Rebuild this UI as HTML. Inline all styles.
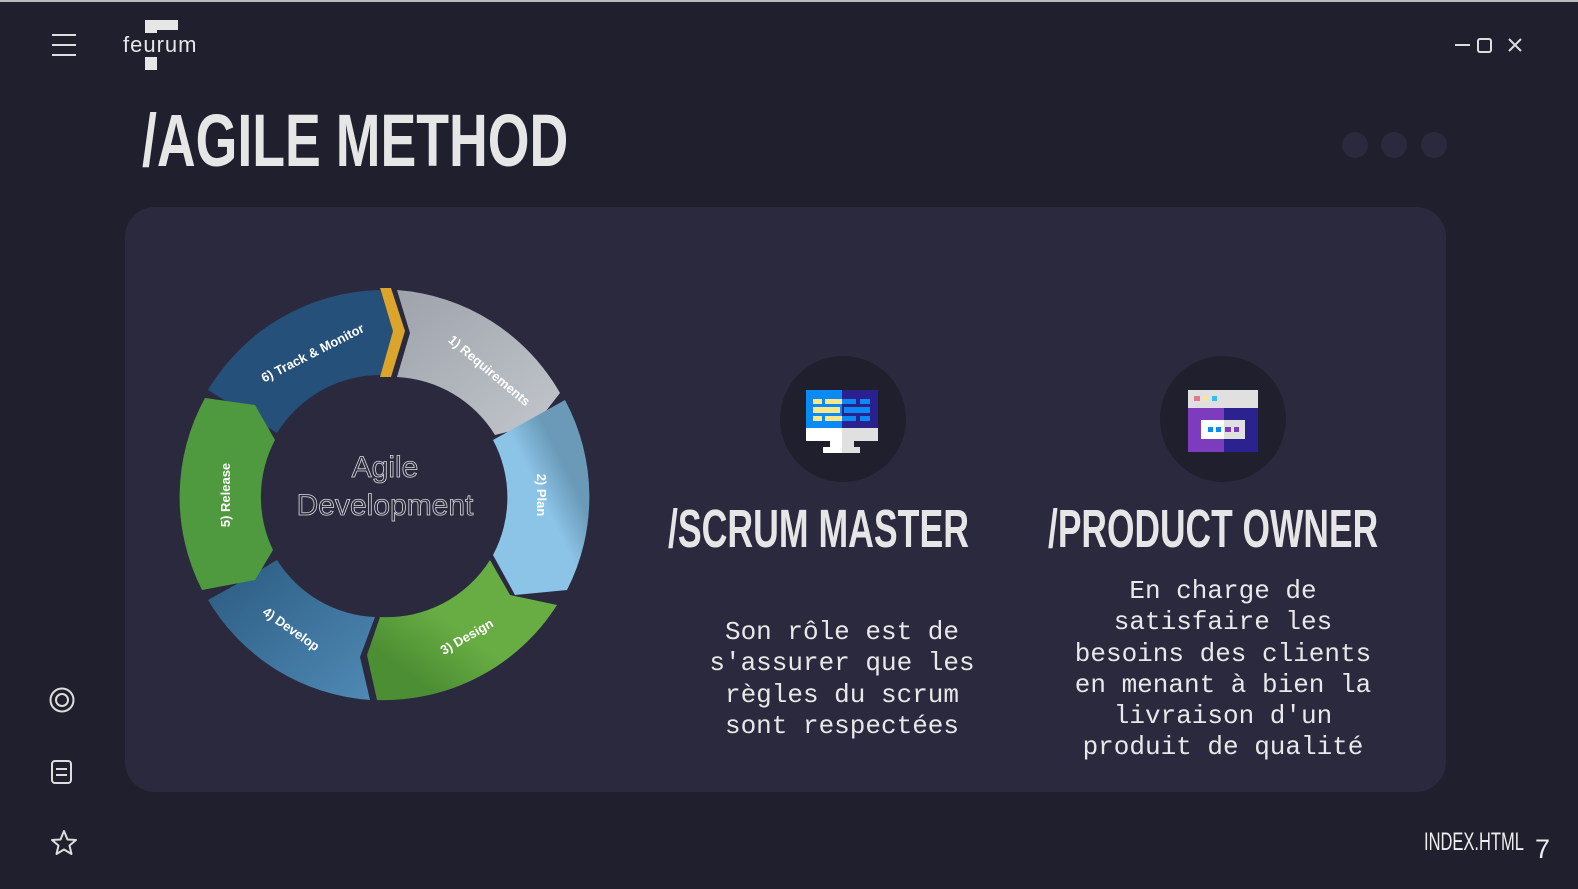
<!DOCTYPE html>
<html><head><meta charset="utf-8"><style>
html,body{margin:0;padding:0}
body{width:1578px;height:889px;background:#1f1f2d;position:relative;overflow:hidden;font-family:"Liberation Sans",sans-serif;border-top:2px solid #bbb;box-sizing:border-box}
.cond{font-family:"Liberation Sans Narrow","Liberation Sans",sans-serif;font-weight:bold;color:#e6e6e6;position:absolute;white-space:nowrap;transform-origin:left top}
.panel{position:absolute;left:125px;top:205px;width:1321px;height:585px;background:#2a293e;border-radius:30px}
.mono{position:absolute;font-family:"Liberation Mono",monospace;font-size:26px;line-height:31.3px;color:#e8e8e8;text-align:center;white-space:pre}
.circ{position:absolute;width:126px;height:126px;border-radius:50%;background:#1f1f2d}
.dot{position:absolute;top:130px;width:26px;height:26px;border-radius:50%;background:#2a293e}
</style></head><body>
<div style="position:absolute;left:52px;top:32px;width:24px;height:2px;background:#ddd"></div>
<div style="position:absolute;left:52px;top:42px;width:24px;height:2px;background:#ddd"></div>
<div style="position:absolute;left:52px;top:52px;width:24px;height:2px;background:#ddd"></div>
<div style="position:absolute;left:145px;top:18px;width:12px;height:50px;background:#e6e6e6"></div>
<div style="position:absolute;left:145px;top:18px;width:33px;height:10px;background:#e6e6e6"></div>
<div style="position:absolute;left:122px;top:31px;font-size:22px;letter-spacing:1px;color:#e6e6e6;background:#1f1f2d;padding:0 1px;line-height:24px">feurum</div>
<div style="position:absolute;left:1455px;top:42px;width:15px;height:2px;background:#ddd"></div>
<div style="position:absolute;left:1477px;top:36px;width:11px;height:11px;border:2px solid #ddd;border-radius:3px"></div>
<svg style="position:absolute;left:1507px;top:35px" width="16" height="16"><path d="M2 2L14 14M14 2L2 14" stroke="#ddd" stroke-width="2"/></svg>
<div class="cond" style="left:142px;top:96px;font-size:74px;transform:scaleX(0.725)">/AGILE METHOD</div>
<div class="dot" style="left:1342px"></div><div class="dot" style="left:1381px"></div><div class="dot" style="left:1421px"></div>
<div class="panel"></div>
<svg style="position:absolute;left:170px;top:280px" width="430" height="430" viewBox="-215 -213 430 430">
<defs>
<linearGradient id="g1" x1="0" y1="0" x2="1" y2="1"><stop offset="0" stop-color="#9ea3ab"/><stop offset="1" stop-color="#c2c6cc"/></linearGradient>
<linearGradient id="g2" x1="1" y1="0" x2="0" y2="1"><stop offset="0.3" stop-color="#6a9ab8"/><stop offset="0.5" stop-color="#8cc4e8"/></linearGradient>
<linearGradient id="g3" x1="0" y1="1" x2="1" y2="0"><stop offset="0.2" stop-color="#4c8e33"/><stop offset="0.5" stop-color="#68ad44"/></linearGradient>
<linearGradient id="g4" x1="0" y1="0" x2="1" y2="1"><stop offset="0" stop-color="#2b5a80"/><stop offset="1" stop-color="#4f8ab5"/></linearGradient>
</defs>
<path d="M-177 -105 A205 205 0 0 1 -5 -205 L10 -160 -3 -120 A122 122 0 0 0 -108 -62 Z" fill="#25507a"/>
<path d="M-5 -207 L6 -207 20 -164 6 -118 -5 -118 8 -164 Z" fill="#dba42a"/>
<path d="M12 -205 A205 205 0 0 1 175 -102 L150 -70 110 -60 A122 122 0 0 0 12 -118 L25 -162 Z" fill="url(#g1)"/>
<path d="M180 -95 A205 205 0 0 1 182 95 L130 100 108 60 A122 122 0 0 0 108 -55 Z" fill="url(#g2)"/>
<path d="M172 110 A205 205 0 0 1 -8 205 L-18 160 -5 122 A122 122 0 0 0 105 65 L125 100 Z" fill="url(#g3)"/>
<path d="M-15 205 A205 205 0 0 1 -177 105 L-150 90 -108 65 A122 122 0 0 0 -10 122 L-25 162 Z" fill="url(#g4)"/>
<path d="M-183 95 A205 205 0 0 1 -180 -97 L-130 -90 -110 -55 A122 122 0 0 0 -112 55 L-130 85 Z" fill="#4f9a3f"/>
<text x="0" y="-18" fill="#2a293e" stroke="#ddd" stroke-width="0.8" font-size="30" text-anchor="middle" font-family="Liberation Sans">Agile</text>
<text x="0" y="20" fill="#2a293e" stroke="#ddd" stroke-width="0.8" font-size="30" text-anchor="middle" font-family="Liberation Sans">Development</text>
<g font-family="Liberation Sans" font-weight="bold" font-size="13" fill="#fff" text-anchor="middle">
<text transform="rotate(-27) translate(0,-155)">6) Track &amp; Monitor</text>
<text transform="rotate(40) translate(0,-158)">1) Requirements</text>
<text transform="rotate(90) translate(0,-152)">2) Plan</text>
<text transform="rotate(-30) translate(0,168)">3) Design</text>
<text transform="rotate(35) translate(0,168)">4) Develop</text>
<text transform="rotate(-90) translate(0,-155)">5) Release</text>
</g>
</svg>
<div class="circ" style="left:780px;top:354px"></div>
<div class="circ" style="left:1160px;top:354px"></div>
<svg style="position:absolute;left:806px;top:388px" width="74" height="64">
<rect x="0" y="0" width="36" height="38" fill="#0a8af5"/><rect x="36" y="0" width="36" height="38" fill="#2a218f"/>
<rect x="0" y="38" width="36" height="13" fill="#fff"/><rect x="36" y="38" width="36" height="13" fill="#e0e0e0"/>
<rect x="24" y="51" width="12" height="6" fill="#fff"/><rect x="36" y="51" width="12" height="6" fill="#e0e0e0"/>
<rect x="17" y="57" width="19" height="6" fill="#fff"/><rect x="36" y="57" width="18" height="6" fill="#e0e0e0"/>
<g fill="#fde68a"><rect x="7" y="9" width="9" height="5"/><rect x="19" y="9" width="17" height="5"/><rect x="7" y="17" width="27" height="6"/><rect x="7" y="26" width="9" height="5"/><rect x="19" y="26" width="17" height="5"/></g>
<g fill="#0a8af5"><rect x="36" y="9" width="14" height="5"/><rect x="54" y="9" width="10" height="5"/><rect x="38" y="17" width="26" height="6"/><rect x="36" y="26" width="14" height="5"/><rect x="54" y="26" width="10" height="5"/></g>
</svg>
<svg style="position:absolute;left:1188px;top:388px" width="72" height="62">
<rect x="0" y="0" width="70" height="18" fill="#e0e0e0"/>
<rect x="0" y="18" width="36" height="44" fill="#7d3cbd"/><rect x="36" y="18" width="34" height="44" fill="#2b218f"/>
<rect x="13" y="30" width="23" height="19" fill="#fff"/><rect x="36" y="30" width="21" height="19" fill="#e0e0e0"/>
<rect x="6" y="6" width="6" height="5" fill="#e07a88"/><rect x="15" y="6" width="5" height="5" fill="#fde68a"/><rect x="24" y="6" width="5" height="5" fill="#2fbef0"/>
<rect x="20" y="37" width="5" height="5" fill="#0a8af5"/><rect x="28" y="37" width="5" height="5" fill="#0a8af5"/><rect x="37" y="37" width="6" height="5" fill="#7d3cbd"/><rect x="46" y="37" width="5" height="5" fill="#7d3cbd"/>
</svg>
<div class="cond" style="left:668px;top:496px;font-size:54px;transform:scaleX(0.66)">/SCRUM MASTER</div>
<div class="cond" style="left:1048px;top:496px;font-size:54px;transform:scaleX(0.655)">/PRODUCT OWNER</div>
<div class="mono" style="left:692px;top:615px;width:300px">Son rôle est de
s'assurer que les
règles du scrum
sont respectées</div>
<div class="mono" style="left:1063px;top:574px;width:320px">En charge de
satisfaire les
besoins des clients
en menant à bien la
livraison d'un
produit de qualité</div>
<svg style="position:absolute;left:48px;top:684px" width="28" height="28"><circle cx="14" cy="14" r="11.5" stroke="#ddd" stroke-width="2" fill="none"/><circle cx="14" cy="14" r="6" stroke="#ddd" stroke-width="2" fill="none"/></svg>
<svg style="position:absolute;left:50px;top:757px" width="24" height="26"><rect x="2" y="2" width="19" height="22" rx="3" stroke="#ddd" stroke-width="2" fill="none"/><path d="M6 10H17M6 16H17" stroke="#ddd" stroke-width="2"/></svg>
<svg style="position:absolute;left:50px;top:827px" width="28" height="28"><path d="M14 2L17.5 10.5 26 11 19.5 16.5 21.5 25 14 20.5 6.5 25 8.5 16.5 2 11 10.5 10.5Z" stroke="#ddd" stroke-width="2" fill="none" stroke-linejoin="round"/></svg>
<div class="cond" style="left:1424px;top:826px;font-size:25px;font-weight:normal;transform:scaleX(0.66);color:#eee">INDEX.HTML</div>
<div style="position:absolute;left:1535px;top:832px;font-size:27px;color:#eee;font-family:'Liberation Sans',sans-serif">7</div>
</body></html>
